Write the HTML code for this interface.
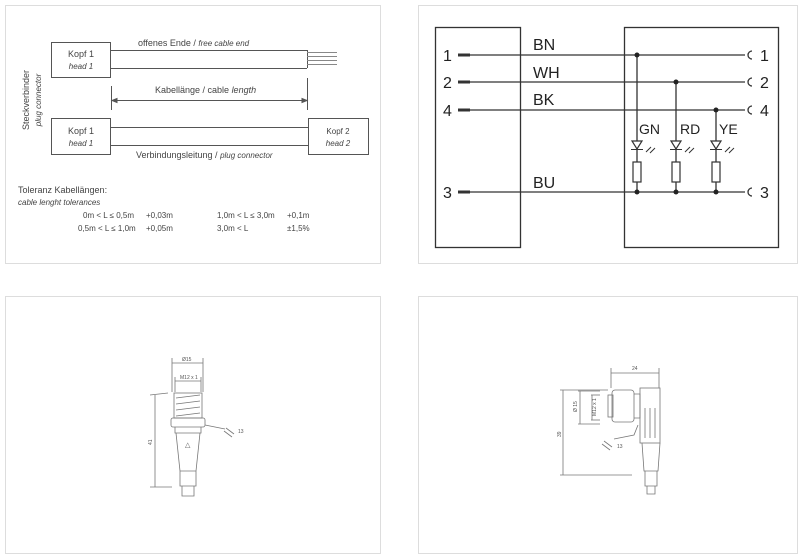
<!DOCTYPE html>
<html><head><meta charset="utf-8"><style>
body{margin:0;background:#fff;width:800px;height:559px;overflow:hidden;font-family:"Liberation Sans",sans-serif}
svg{position:absolute;left:0;top:0}
</style></head><body>
<svg width="800" height="559" viewBox="0 0 800 559" font-family="Liberation Sans, sans-serif" fill="none" stroke="#444" stroke-width="1">
<g stroke="#ddd"><rect x="5.5" y="5.5" width="375" height="258"/><rect x="418.5" y="5.5" width="379" height="258"/><rect x="5.5" y="296.5" width="375" height="257"/><rect x="418.5" y="296.5" width="379" height="257"/></g>
<!-- top-left -->
<g stroke="#555">
<rect x="51.5" y="42.5" width="59" height="35"/>
<line x1="110" y1="50.5" x2="307" y2="50.5"/><line x1="110" y1="68.5" x2="307" y2="68.5"/><line x1="307.5" y1="50" x2="307.5" y2="68"/>
<g stroke="#888"><line x1="307" y1="52.5" x2="337" y2="52.5"/><line x1="307" y1="56.5" x2="337" y2="56.5"/><line x1="307" y1="60.5" x2="337" y2="60.5"/><line x1="307" y1="64.5" x2="337" y2="64.5"/></g>
<line x1="111.5" y1="86" x2="111.5" y2="110"/><line x1="307.5" y1="78" x2="307.5" y2="110"/><line x1="112" y1="100.5" x2="307" y2="100.5"/>
<path d="M112 100.5l5 -2v4z M307 100.5l-5 -2v4z" fill="#555"/>
<rect x="51.5" y="118.5" width="59" height="36"/><rect x="308.5" y="118.5" width="60" height="36"/>
<line x1="110" y1="127.5" x2="308" y2="127.5"/><line x1="110" y1="145.5" x2="308" y2="145.5"/>
</g>
<g fill="#444" stroke="none" font-size="9">
<text x="81" y="57" text-anchor="middle">Kopf 1</text><text x="81" y="69" text-anchor="middle" font-style="italic" font-size="8">head 1</text>
<text x="138" y="46">offenes Ende / <tspan font-style="italic" font-size="8">free cable end</tspan></text>
<text x="155" y="93">Kabellänge / cable <tspan font-style="italic">length</tspan></text>
<text x="81" y="134" text-anchor="middle">Kopf 1</text><text x="81" y="146" text-anchor="middle" font-style="italic" font-size="8">head 1</text>
<text x="338" y="134" text-anchor="middle" font-size="8">Kopf 2</text><text x="338" y="146" text-anchor="middle" font-style="italic" font-size="8">head 2</text>
<text x="136" y="158">Verbindungsleitung / <tspan font-style="italic" font-size="8">plug connector</tspan></text>
<text transform="translate(29,100) rotate(-90)" text-anchor="middle">Steckverbinder</text>
<text transform="translate(41,100) rotate(-90)" text-anchor="middle" font-style="italic" font-size="8">plug connector</text>
<text x="18" y="193">Toleranz Kabellängen:</text>
<text x="18" y="205" font-style="italic" font-size="8">cable lenght tolerances</text>
<g font-size="8"><text x="83" y="218">0m &lt; L ≤ 0,5m</text><text x="146" y="218">+0,03m</text><text x="217" y="218">1,0m &lt; L ≤ 3,0m</text><text x="287" y="218">+0,1m</text>
<text x="78" y="231">0,5m &lt; L ≤ 1,0m</text><text x="146" y="231">+0,05m</text><text x="217" y="231">3,0m &lt; L</text><text x="287" y="231">±1,5%</text></g>
</g>
<!-- top-right -->
<g stroke="#333" stroke-width="1.3">
<rect x="435.5" y="27.5" width="85" height="220"/><rect x="624.5" y="27.5" width="154" height="220"/>
<line x1="470" y1="55" x2="745" y2="55"/><line x1="470" y1="82" x2="745" y2="82"/><line x1="470" y1="110" x2="745" y2="110"/><line x1="470" y1="192" x2="745" y2="192"/>
<g stroke-width="3"><line x1="458" y1="55" x2="470" y2="55"/><line x1="458" y1="82" x2="470" y2="82"/><line x1="458" y1="110" x2="470" y2="110"/><line x1="458" y1="192" x2="470" y2="192"/></g>
<path d="M752 51a4 4 0 0 0 0 8M752 78a4 4 0 0 0 0 8M752 106a4 4 0 0 0 0 8M752 188a4 4 0 0 0 0 8"/>
<line x1="637" y1="55" x2="637" y2="192"/><line x1="676" y1="82" x2="676" y2="192"/><line x1="716" y1="110" x2="716" y2="192"/>
</g>
<g fill="#fff" stroke="#333" stroke-width="1.2">
<path d="M632 141h10l-5 8z M671 141h10l-5 8z M711 141h10l-5 8z"/>
<rect x="633" y="162" width="8" height="20"/><rect x="672" y="162" width="8" height="20"/><rect x="712" y="162" width="8" height="20"/>
</g>
<g stroke="#333"><path d="M631 149.5h12M670 149.5h12M710 149.5h12"/>
<path d="M646 152l5-5M650 153l5-5M685 152l5-5M689 153l5-5M725 152l5-5M729 153l5-5"/></g>
<g fill="#222" stroke="none">
<circle cx="637" cy="55" r="2.5"/><circle cx="676" cy="82" r="2.5"/><circle cx="716" cy="110" r="2.5"/>
<circle cx="637" cy="192" r="2.5"/><circle cx="676" cy="192" r="2.5"/><circle cx="716" cy="192" r="2.5"/>
<g font-size="16"><text x="443" y="61">1</text><text x="443" y="88">2</text><text x="443" y="116">4</text><text x="443" y="198">3</text>
<text x="760" y="61">1</text><text x="760" y="88">2</text><text x="760" y="116">4</text><text x="760" y="198">3</text>
<text x="533" y="50">BN</text><text x="533" y="78">WH</text><text x="533" y="105">BK</text><text x="533" y="188">BU</text></g>
<g font-size="14"><text x="639" y="134">GN</text><text x="680" y="134">RD</text><text x="719" y="134">YE</text></g>
</g>
<!-- bottom-left connector -->
<g stroke="#777" stroke-width="0.8">
<line x1="172" y1="358" x2="172" y2="392"/><line x1="203" y1="358" x2="203" y2="392"/><line x1="172" y1="363" x2="203" y2="363"/>
<line x1="175" y1="377" x2="175" y2="392"/><line x1="201" y1="377" x2="201" y2="392"/><line x1="175" y1="381" x2="201" y2="381"/>
<line x1="150" y1="395" x2="168" y2="393"/><line x1="150" y1="487" x2="172" y2="487"/><line x1="155" y1="395" x2="155" y2="487"/>
<rect x="174" y="393" width="28" height="25"/><path d="M176 398l24-3M176 404l24-3M176 410l24-3M176 416l24-3"/>
<rect x="171" y="418" width="34" height="9" rx="2"/>
<path d="M175 427v6h26v-6M176 433l4 38h16l4-38M180 471v15h16v-15M182 486v10h12v-10"/>
<path d="M205 425l20 4M226 428l8 6M224 431l8 6"/>
</g>
<g fill="#555" stroke="none" font-size="5"><text x="182" y="361">Ø15</text><text x="180" y="379">M12 x 1</text><text x="238" y="433">13</text>
<text transform="translate(152,445) rotate(-90)">41</text><text x="185" y="447" font-size="7">△</text></g>
<!-- bottom-right connector -->
<g stroke="#777" stroke-width="0.8">
<line x1="611" y1="368" x2="611" y2="388"/><line x1="659" y1="368" x2="659" y2="388"/><line x1="611" y1="373" x2="659" y2="373"/>
<line x1="560" y1="390" x2="608" y2="390"/><line x1="560" y1="475" x2="632" y2="475"/><line x1="563" y1="390" x2="563" y2="475"/>
<line x1="578" y1="391" x2="600" y2="391"/><line x1="578" y1="424" x2="600" y2="424"/><line x1="580" y1="391" x2="580" y2="424"/>
<line x1="591" y1="395" x2="600" y2="395"/><line x1="591" y1="420" x2="600" y2="420"/><line x1="592" y1="395" x2="592" y2="420"/>
<rect x="612" y="390" width="22" height="32" rx="3"/><rect x="608" y="395" width="5" height="22"/>
<path d="M634 394h6v24h-6"/><rect x="640" y="388" width="20" height="55"/>
<path d="M645 408v30M650 408v30M655 408v30M642 443l2 28h14l2-28M645 471v15h12v-15M647 486v8h8v-8"/>
<path d="M638 425l-4 10-20 4M604 441l8 6M602 444l8 6"/>
</g>
<g fill="#555" stroke="none" font-size="5"><text x="632" y="370">24</text><text x="617" y="448">13</text>
<text transform="translate(561,437) rotate(-90)">39</text><text transform="translate(577,412) rotate(-90)">Ø 15</text><text transform="translate(596,416) rotate(-90)">M12 x 1</text></g>
</svg>
</body></html>
